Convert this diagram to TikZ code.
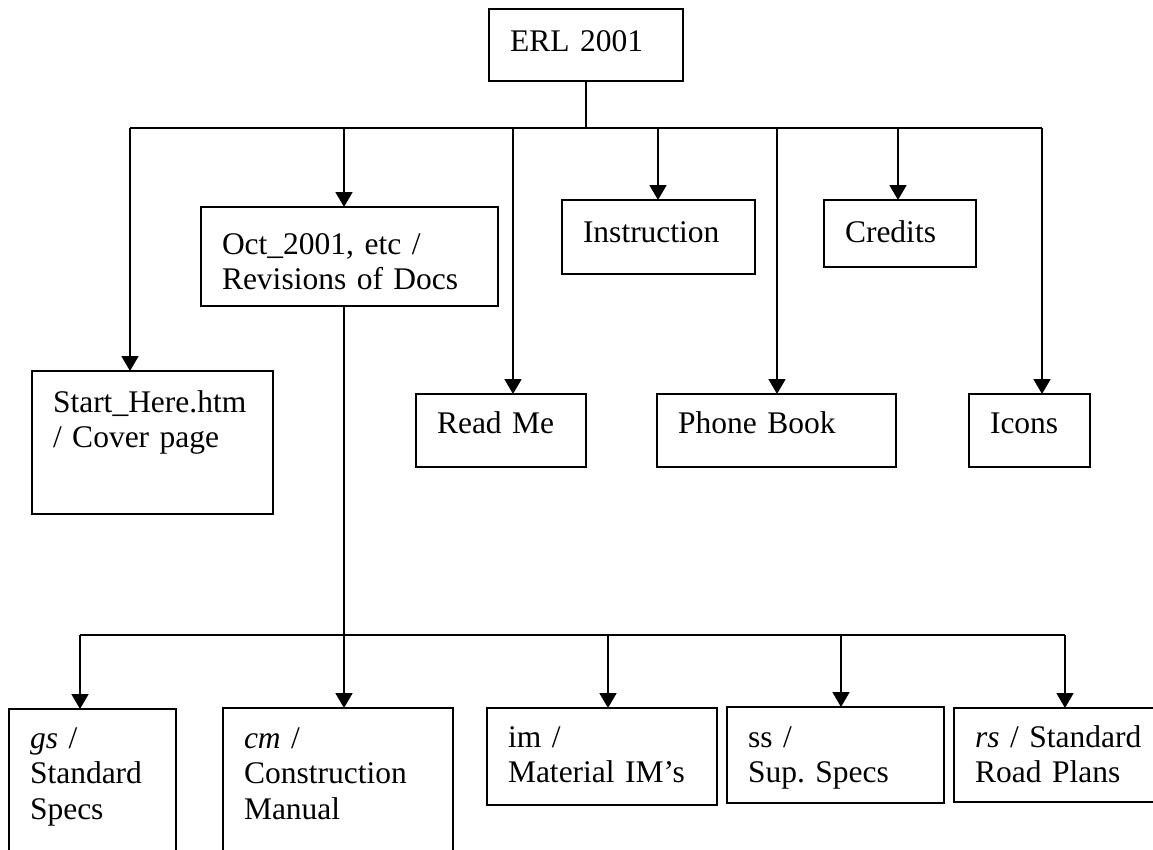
\documentclass[tikz,border=0pt]{standalone}
\usepackage{fontspec}
\setmainfont{Liberation Serif}
\usetikzlibrary{arrows.meta}
\frenchspacing

\begin{document}
\begin{tikzpicture}[x=1pt,y=-1pt,line width=1.8pt,
	box/.style={draw,anchor=north west,align=left,outer sep=0pt,
		inner xsep=21pt,inner ysep=0pt,
		font=\fontsize{31.5}{35.5}\selectfont},
	arr/.style={-{Triangle[length=15pt,width=17pt]}}]
	\clip (0,0) rectangle (1153,849);
	
	%ROOT
	\node[box,text width=152pt,text height=42pt,text depth=30pt] (erl) at (489,9) {ERL 2001};
	
	%FIRST LEVEL
	\node[box,text width=199pt,text height=41pt,text depth=102pt] (start) at (32,371) {Start\_Here.htm\\/ Cover page};
	\node[box,text width=255pt,text height=47pt,text depth=52pt] (oct) at (201,207) {Oct\_2001, etc /\\Revisions of Docs};
	\node[box,text width=128pt,text height=39pt,text depth=34pt] (readme) at (416,394) {Read Me};
	\node[box,text width=151pt,text height=42pt,text depth=32pt] (instr) at (562,200) {Instruction};
	\node[box,text width=197pt,text height=39pt,text depth=34pt] (phone) at (657,394) {Phone Book};
	\node[box,text width=110pt,text height=42pt,text depth=25pt] (credits) at (824,200) {Credits};
	\node[box,text width=79pt,text height=39pt,text depth=34pt] (icons) at (969,394) {Icons};
	
	%UPPER BUS
	\coordinate (bStart) at (130,128);
	\coordinate (bOct) at (344,128);
	\coordinate (bReadme) at (513,128);
	\coordinate (bInstr) at (658,128);
	\coordinate (bPhone) at (777,128);
	\coordinate (bCredits) at (898,128);
	\coordinate (bIcons) at (1042,128);
	\draw (erl.south) -- (erl.south |- bStart);
	\draw (bStart) -- (bIcons);
	\foreach \j/\n in {bStart/start,bOct/oct,bReadme/readme,bInstr/instr,bPhone/phone,bCredits/credits,bIcons/icons}
		\draw[arr] (\j) -- (\j |- \n.north);
	
	%DOCUMENTS
	\node[box,text width=125pt,text height=39pt,text depth=200pt] (gs) at (9,709) {\textit{gs} /\\Standard\\Specs};
	\node[box,text width=188pt,text height=40pt,text depth=200pt] (cm) at (223,708) {\textit{cm} /\\Construction\\Manual};
	\node[box,text width=188pt,text height=39pt,text depth=58pt] (im) at (487,708) {im /\\Material IM’s};
	\node[box,text width=175pt,text height=40pt,text depth=56pt] (ss) at (727,707) {ss /\\Sup. Specs};
	\node[box,text width=188pt,text height=39pt,text depth=55pt] (rs) at (954,708) {\textit{rs} / Standard\\Road Plans};
	
	%LOWER BUS
	\coordinate (lGs) at (80,635);
	\coordinate (lCm) at (344,635);
	\coordinate (lIm) at (608,635);
	\coordinate (lSs) at (841,635);
	\coordinate (lRs) at (1065,635);
	\draw (oct.south -| lCm) -- (lCm);
	\draw (lGs) -- (lRs);
	\foreach \j/\n in {lGs/gs,lCm/cm,lIm/im,lSs/ss,lRs/rs}
		\draw[arr] (\j) -- (\j |- \n.north);
\end{tikzpicture}
\end{document}
